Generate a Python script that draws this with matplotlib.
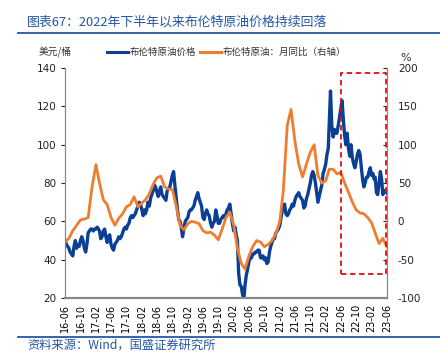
import numpy as np
import pandas as pd
import matplotlib
matplotlib.use("Agg")
import matplotlib.pyplot as plt
import matplotlib.dates as mdates
from matplotlib.patches import Rectangle
from matplotlib.lines import Line2D

plt.rcParams['font.family'] = ['Noto Sans CJK SC', 'DejaVu Sans']
plt.rcParams['axes.unicode_minus'] = False

# Brent price, 3 readings per month (day 1, 11, 21), 2016-06 .. 2023-06
brent = [
    50, 48, 47, 46, 44, 43, 42, 47, 50, 46, 48, 47, 50, 52, 50, 46, 44, 48,
    54, 55, 56, 56, 55, 56, 56, 57, 56, 55, 51, 52, 55, 56, 52, 49, 52, 53,
    48, 46, 45, 48, 49, 50, 52, 51, 52, 54, 56, 57, 56, 58, 59, 62, 63, 62,
    63, 64, 66, 68, 70, 69, 66, 63, 66, 64, 66, 70, 68, 72, 74, 76, 79, 78,
    75, 73, 76, 78, 74, 73, 72, 71, 76, 77, 78, 81, 84, 86, 79, 72, 66, 61,
    60, 57, 52, 56, 60, 61, 62, 65, 66, 66, 67, 68, 71, 73, 75, 72, 70, 68,
    62, 61, 64, 66, 64, 63, 59, 57, 59, 60, 66, 63, 59, 59, 61, 62, 63, 62,
    64, 66, 67, 69, 64, 59, 55, 57, 53, 50, 33, 27, 26, 22, 19, 27, 32, 35,
    39, 41, 41, 43, 43, 44, 44, 45, 45, 41, 41, 42, 40, 41, 38, 39, 44, 47,
    49, 51, 51, 54, 55, 56, 58, 62, 66, 68, 69, 64, 63, 64, 66, 67, 69, 68,
    71, 73, 74, 75, 73, 72, 71, 67, 68, 72, 74, 77, 80, 84, 86, 84, 80, 75,
    70, 73, 76, 79, 85, 87, 90, 95, 98, 112, 128, 110, 104, 108, 106, 106, 110, 114,
    119, 123, 113, 105, 100, 106, 98, 94, 100, 93, 90, 88, 91, 95, 97, 95, 88, 82,
    78, 80, 83, 83, 86, 88, 84, 85, 82, 83, 75, 74, 80, 86, 82, 74, 76, 76,
    75, 74, 74,
]

# Brent YoY (%), monthly, 2016-06 .. 2023-06
brent_yoy = [
    -27, -22, -12, -5, 2, 3, 5,
    45, 74, 50, 28, 22, 5, -5, 4, 10, 19, 22, 32,
    19, 24, 28, 36, 48, 57, 59, 45, 42, 42, 20, -5,
    -11, -3, 0, -1, -3, -12, -15, -14, -18, -24, -10, 5,
    12, -5, -35, -55, -62, -45, -33, -25, -27, -33, -30, -25,
    -16, 0, 40, 125, 146, 105, 75, 58, 75, 90, 100, 60,
    50, 53, 68, 68, 62, 64, 50, 38, 25, 15, 11, 10,
    5, -2, -15, -29, -22, -33,
]

months = pd.date_range('2016-06-01', '2023-06-01', freq='MS')
days = []
for m in months:
    for d in (0, 10, 20):
        days.append(m + pd.Timedelta(days=d))
days = days[:len(brent)]

blue = '#0a3f94'
orange = '#ef7d2f'
title_blue = '#2456a4'

fig = plt.figure(figsize=(4.4, 3.6), dpi=100)
ax = fig.add_axes([0.148, 0.172, 0.731, 0.639])
ax.plot(days, brent, color=blue, lw=2.4)
ax.set_ylim(20, 140)
ax.set_yticks(range(20, 141, 20))
ax.set_xlim(pd.Timestamp('2016-06-01'), pd.Timestamp('2023-06-01'))

ticks = pd.date_range('2016-06-01', '2023-06-01', freq='4MS')
ax.set_xticks(ticks)
ax.set_xticklabels([t.strftime('%y-%m') for t in ticks], rotation=90, fontsize=7,
                   family='DejaVu Sans')
ax.tick_params(axis='x', length=0, pad=4)
ax.tick_params(axis='y', labelsize=7.5, length=3, colors='#222222', pad=3)
ax.spines['top'].set_visible(False)
for s in ['left', 'right', 'bottom']:
    ax.spines[s].set_color('#888888')
ax.spines['bottom'].set_linewidth(1.5)

ax2 = ax.twinx()
ax2.plot(months, brent_yoy, color=orange, lw=2.0)
ax2.set_ylim(-100, 200)
ax2.set_yticks(range(-100, 201, 50))
ax2.tick_params(axis='y', labelsize=7.5, length=3, direction='in', colors='#222222', pad=8)
ax2.spines['top'].set_visible(False)
for s in ['left', 'right', 'bottom']:
    ax2.spines[s].set_color('#888888')
ax2.spines['bottom'].set_linewidth(1.5)
for lab in ax.get_yticklabels() + ax2.get_yticklabels():
    lab.set_family('DejaVu Sans')
    lab.set_color('#222222')

x0 = mdates.date2num(pd.Timestamp('2022-06-01'))
x1 = mdates.date2num(pd.Timestamp('2023-05-28'))
ax2.add_patch(Rectangle((x0, -68), x1 - x0, 261, fill=False, ec='#e01010',
                        ls=(0, (3, 2)), lw=1.3, zorder=5))

# title and source
fig.text(0.062, 0.94, '图表67：2022年下半年以来布伦特原油价格持续回落', color=title_blue,
         fontsize=9.3, style='italic', va='center', ha='left')
fig.add_artist(Line2D([0.04, 1.0], [0.907, 0.907], color=title_blue, lw=1.3))
fig.add_artist(Line2D([0.04, 1.0], [0.065, 0.065], color=title_blue, lw=1.3))
fig.text(0.062, 0.042, '资料来源：Wind，国盛证券研究所', color=title_blue,
         fontsize=8.8, style='italic', va='center', ha='left')

fig.text(0.088, 0.855, '美元/桶', fontsize=7, color='#333333', va='center', ha='left')
fig.text(0.922, 0.84, '%', fontsize=8, color='#333333', va='center', ha='center',
         family='DejaVu Sans')

h1 = Line2D([], [], color=blue, lw=2.2)
h2 = Line2D([], [], color=orange, lw=2.2)
fig.legend([h1, h2], ['布伦特原油价格', '布伦特原油：月同比（右轴）'], ncol=2,
           loc='center', bbox_to_anchor=(0.515, 0.855), frameon=False,
           fontsize=6.8, handlelength=2.3, handletextpad=0.2, columnspacing=0.3,
           labelcolor='#333333')

fig.savefig('out.png', dpi=100)
